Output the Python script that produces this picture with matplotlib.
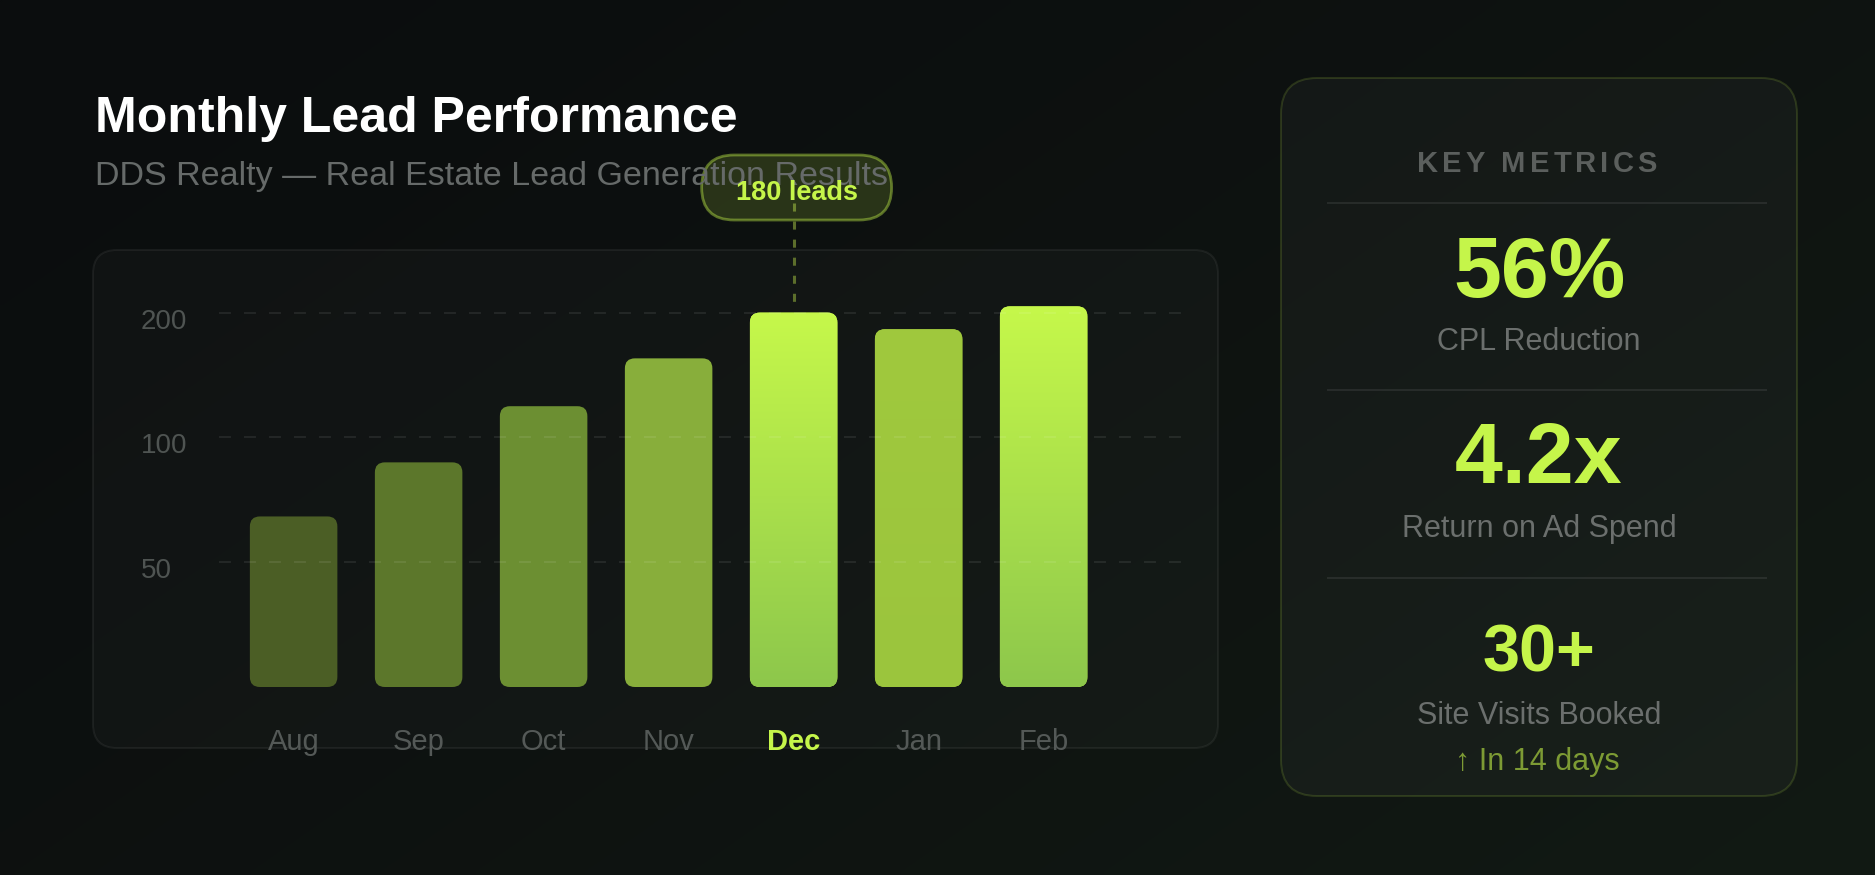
import numpy as np
import matplotlib
matplotlib.use('Agg')
import matplotlib.pyplot as plt
import matplotlib.colors as mcolors
from matplotlib.patches import FancyBboxPatch
from matplotlib.lines import Line2D
from matplotlib.transforms import IdentityTransform, blended_transform_factory
from matplotlib.font_manager import FontProperties

# ---------------- data ----------------
months = ['Aug', 'Sep', 'Oct', 'Nov', 'Dec', 'Jan', 'Feb']
leads = [82, 108, 135, 158, 180, 172, 183]
ytick_values = [60, 120, 180]
ytick_labels = ['50', '100', '200']
highlight_month = 'Dec'
title = 'Monthly Lead Performance'
subtitle = 'DDS Realty — Real Estate Lead Generation Results'
panel_title = 'KEY METRICS'
metric_values = ['56%', '4.2x', '30+']
metric_labels = ['CPL Reduction', 'Return on Ad Spend', 'Site Visits Booked']
metric_note = '↑ In 14 days'

# ---------------- style ----------------
bar_top_colors = ['#4b5e25', '#5c772b', '#6c8f32', '#88ae3b', '#c6f84a', '#a0c93e', '#c6f84a']
bar_bot_colors = ['#4b5e25', '#5c772b', '#6c8f32', '#88ae3b', '#8dc74c', '#9bc53d', '#8dc74c']
LIME = '#c5f54a'
FONT = ['Liberation Sans', 'DejaVu Sans']

plt.rcParams['font.family'] = FONT
plt.rcParams['lines.scale_dashes'] = False

W, H = 1875, 875
fig = plt.figure(figsize=(W / 100, H / 100), dpi=100, facecolor='#0b0d0e')
PX = IdentityTransform()


def fy(y):
    return H - y


# background gradient
bg = fig.add_axes([0, 0, 1, 1], zorder=-10)
bg.axis('off')
xx, yy = np.meshgrid(np.linspace(0, 1, 300), np.linspace(0, 1, 140))
t = np.clip(0.6 * xx + 0.4 * yy, 0, 1) ** 1.3
c0 = np.array(mcolors.to_rgb('#0b0d0e'))
c1 = np.array(mcolors.to_rgb('#121a14'))
bg.imshow(c0 + (c1 - c0) * t[..., None], extent=[0, 1, 0, 1], aspect='auto',
          origin='upper', interpolation='bilinear')
bg.set_xlim(0, 1)
bg.set_ylim(0, 1)


def rbox(x0, y0, x1, y1, r, fc, ec, lw, z):
    p = FancyBboxPatch((x0, fy(y1)), x1 - x0, y1 - y0,
                       boxstyle=f'round,pad=0,rounding_size={r}',
                       transform=PX, facecolor=fc, edgecolor=ec, linewidth=lw, zorder=z)
    fig.add_artist(p)
    return p


# chart panel
rbox(93, 250, 1218, 748, 24, (1, 1, 1, 0.025), (1, 1, 1, 0.06), 1.44, 1)
# metrics panel
rbox(1281, 78, 1797, 796, 36, (1, 1, 1, 0.03), mcolors.to_rgba(LIME, 0.15), 1.44, 1)

# title / subtitle
fig.text(95, fy(131.5), title, transform=PX, fontsize=36, fontweight='bold',
         color='white', ha='left', va='baseline', zorder=3)
fig.text(95, fy(185), subtitle, transform=PX, fontsize=24.5, color='#666a69',
         ha='left', va='baseline', zorder=3)

# chart axes
ax = fig.add_axes([219 / W, (H - 687) / H, 963 / W, 416 / H], zorder=2)
ax.set_xlim(-0.597, 7.107)
ax.set_ylim(0, 200)
ax.axis('off')
ax.patch.set_alpha(0)

px_per_x = 963 / (7.107 + 0.597)
px_per_y = 416 / 200
r_px = 10
r_x = r_px / px_per_x
aspect = (1 / px_per_y) / (1 / px_per_x)
bw = 0.7

for i, (m, v) in enumerate(zip(months, leads)):
    x0 = i - bw / 2
    patch = FancyBboxPatch((x0, 0), bw, v, boxstyle=f'round,pad=0,rounding_size={r_x}',
                           mutation_aspect=aspect, facecolor=bar_top_colors[i],
                           edgecolor='none', zorder=2)
    ax.add_patch(patch)
    if bar_top_colors[i] != bar_bot_colors[i]:
        top = np.array(mcolors.to_rgb(bar_top_colors[i]))
        bot = np.array(mcolors.to_rgb(bar_bot_colors[i]))
        s = np.linspace(0, 1, 256)[:, None, None]
        grad = top + (bot - top) * s
        im = ax.imshow(grad, extent=[x0, x0 + bw, 0, v], aspect='auto', origin='upper',
                       interpolation='bilinear', zorder=3)
        im.set_clip_path(patch)

ax.set_xlim(-0.597, 7.107)
ax.set_ylim(0, 200)

# grid lines
for v in ytick_values:
    ax.axhline(v, color='white', alpha=0.08, lw=1.44, dashes=(8.6, 9.4), zorder=5)

# y labels
for v, lab in zip(ytick_values, ytick_labels):
    ypix = ax.transData.transform((0, v))[1]
    fig.text(141, ypix - 16, lab, transform=PX, fontsize=20, color='#4f5452',
             ha='left', va='baseline', zorder=3)

# month labels
btrans = blended_transform_factory(ax.transData, PX)
for i, m in enumerate(months):
    hl = (m == highlight_month)
    ax.text(i, fy(750), m, transform=btrans, fontsize=21,
            fontweight='bold' if hl else 'normal',
            color=LIME if hl else '#545957', ha='center', va='baseline',
            zorder=6, clip_on=False)

# tooltip
hi = months.index(highlight_month)
cx, ctop = ax.transData.transform((hi, leads[hi]))
conn = Line2D([cx, cx], [fy(203), ctop + 7], transform=PX, color='#5c6e2b',
              lw=2.2, dashes=(5.8, 7.2), zorder=2.4)
fig.add_artist(conn)
pw, ph = 190, 65
pcx = cx + 3
p = FancyBboxPatch((pcx - pw / 2, fy(220)), pw, ph, boxstyle=f'round,pad=0,rounding_size={ph / 2}',
                   transform=PX, facecolor=mcolors.to_rgba(LIME, 0.16),
                   edgecolor=mcolors.to_rgba(LIME, 0.42), linewidth=2.0, zorder=2.5)
fig.add_artist(p)
fig.text(pcx, fy(200), f'{leads[hi]} leads', transform=PX, fontsize=19.5, fontweight='bold',
         color=LIME, ha='center', va='baseline', zorder=5)

# ---------------- metrics panel ----------------
PCX = 1539
for y in [203, 390, 578]:
    fig.add_artist(Line2D([1328, 1766], [fy(y), fy(y)], transform=PX,
                          color=(1, 1, 1, 0.08), lw=1.44, zorder=2))

# letter-spaced panel title
renderer = fig.canvas.get_renderer()
fp = FontProperties(family=FONT, weight='bold', size=21)


def tw(s):
    return renderer.get_text_width_height_descent(s, fp, ismath=False)[0]


base = tw('KK')
advs = [tw('K' + ch + 'K') - base for ch in panel_title]
spacing = 4.0
total = sum(advs) + spacing * (len(panel_title) - 1)
pen = PCX - 2 - total / 2
for ch, a in zip(panel_title, advs):
    if ch != ' ':
        fig.text(pen + a / 2, fy(171.5), ch, transform=PX, fontproperties=fp,
                 color='#5b5f5d', ha='center', va='baseline', zorder=3)
    pen += a + spacing

value_base = [297, 483, 671.5]
value_size = [62, 62, 48]
label_base = [350, 536.5, 724]
for val, lab, vb, vs, lb in zip(metric_values, metric_labels, value_base, value_size, label_base):
    fig.text(PCX, fy(vb), val, transform=PX, fontsize=vs, fontweight='bold', color=LIME,
             ha='center', va='baseline', zorder=3)
    fig.text(PCX, fy(lb), lab, transform=PX, fontsize=22, color='#6b6f6d',
             ha='center', va='baseline', zorder=3)
fig.text(PCX - 2, fy(770), metric_note, transform=PX, fontsize=22, color='#7d9b34',
         ha='center', va='baseline', zorder=3)

fig.savefig('out.png', dpi=100, facecolor=fig.get_facecolor())
